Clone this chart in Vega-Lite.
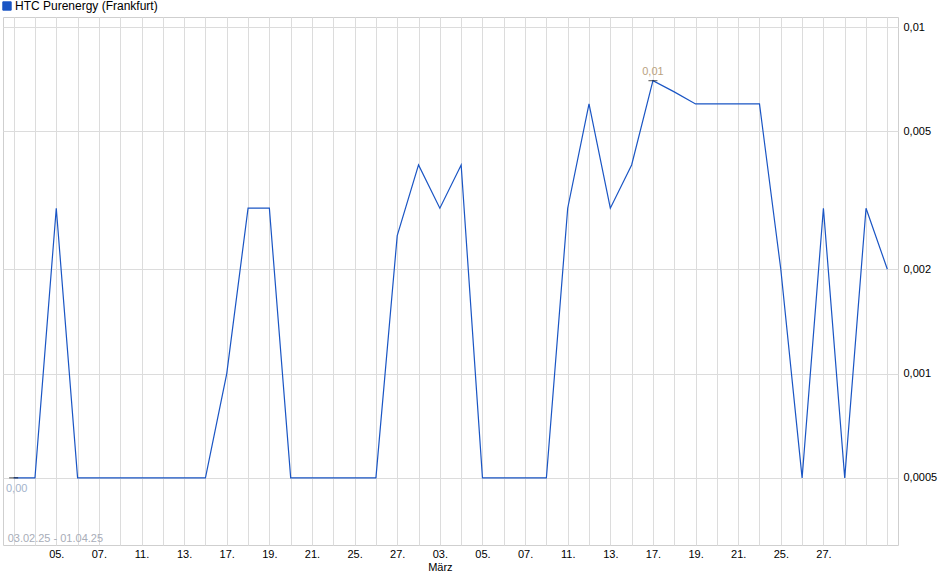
{
  "$schema": "https://vega.github.io/schema/vega-lite/v6.json",
  "width": 895,
  "height": 528,
  "autosize": {"type": "none"},
  "padding": {"left": 3, "top": 17, "right": 42, "bottom": 34},
  "data": {
    "values": [
      {"date": "2025-02-03", "price": 0.0005},
      {"date": "2025-02-04", "price": 0.0005},
      {"date": "2025-02-05", "price": 0.003},
      {"date": "2025-02-06", "price": 0.0005},
      {"date": "2025-02-07", "price": 0.0005},
      {"date": "2025-02-10", "price": 0.0005},
      {"date": "2025-02-11", "price": 0.0005},
      {"date": "2025-02-12", "price": 0.0005},
      {"date": "2025-02-13", "price": 0.0005},
      {"date": "2025-02-14", "price": 0.0005},
      {"date": "2025-02-17", "price": 0.001},
      {"date": "2025-02-18", "price": 0.003},
      {"date": "2025-02-19", "price": 0.003},
      {"date": "2025-02-20", "price": 0.0005},
      {"date": "2025-02-21", "price": 0.0005},
      {"date": "2025-02-24", "price": 0.0005},
      {"date": "2025-02-25", "price": 0.0005},
      {"date": "2025-02-26", "price": 0.0005},
      {"date": "2025-02-27", "price": 0.0025},
      {"date": "2025-02-28", "price": 0.004},
      {"date": "2025-03-03", "price": 0.003},
      {"date": "2025-03-04", "price": 0.004},
      {"date": "2025-03-05", "price": 0.0005},
      {"date": "2025-03-06", "price": 0.0005},
      {"date": "2025-03-07", "price": 0.0005},
      {"date": "2025-03-10", "price": 0.0005},
      {"date": "2025-03-11", "price": 0.003},
      {"date": "2025-03-12", "price": 0.006},
      {"date": "2025-03-13", "price": 0.003},
      {"date": "2025-03-14", "price": 0.004},
      {"date": "2025-03-17", "price": 0.007},
      {"date": "2025-03-18", "price": 0.0065},
      {"date": "2025-03-19", "price": 0.006},
      {"date": "2025-03-20", "price": 0.006},
      {"date": "2025-03-21", "price": 0.006},
      {"date": "2025-03-24", "price": 0.006},
      {"date": "2025-03-25", "price": 0.002},
      {"date": "2025-03-26", "price": 0.0005},
      {"date": "2025-03-27", "price": 0.003},
      {"date": "2025-03-28", "price": 0.0005},
      {"date": "2025-03-31", "price": 0.003},
      {"date": "2025-04-01", "price": 0.002}
    ]
  },
  "encoding": {
    "x": {
      "field": "date",
      "type": "ordinal",
      "sort": null,
      "scale": {"type": "point", "padding": 0.5},
      "axis": {
        "title": null,
        "grid": true,
        "ticks": false,
        "domain": false,
        "labelAngle": 0,
        "labelPadding": 3,
        "labelBaseline": "top",
        "labelFontSize": 11,
        "labelColor": "#000000",
        "labelLineHeight": 13,
        "labelExpr": "indexof(['2025-02-05','2025-02-07','2025-02-11','2025-02-13','2025-02-17','2025-02-19','2025-02-21','2025-02-25','2025-02-27','2025-03-03','2025-03-05','2025-03-07','2025-03-11','2025-03-13','2025-03-17','2025-03-19','2025-03-21','2025-03-25','2025-03-27'], datum.value) < 0 ? '' : (datum.value == '2025-03-03' ? ['03.', 'März'] : substring(datum.value, 8, 10) + '.')"
      }
    },
    "y": {
      "field": "price",
      "type": "quantitative",
      "scale": {"type": "log", "domain": [0.00032, 0.01069], "nice": false},
      "axis": {
        "title": null,
        "orient": "right",
        "values": [0.0005, 0.001, 0.002, 0.005, 0.01],
        "grid": true,
        "ticks": false,
        "domain": false,
        "labelPadding": 5,
        "labelFontSize": 11,
        "labelColor": "#000000",
        "labelExpr": "replace(format(datum.value, '~g'), '.', ',')"
      }
    }
  },
  "layer": [
    {
      "mark": {"type": "line", "strokeWidth": 1.2, "interpolate": "linear"},
      "encoding": {
        "color": {
          "datum": "HTC Purenergy (Frankfurt)",
          "scale": {"range": ["#1a55c4"]},
          "legend": {
            "title": null,
            "orient": "none",
            "legendX": -2,
            "legendY": -17,
            "padding": 0,
            "symbolType": "square",
            "symbolSize": 70,
            "symbolStrokeWidth": 1,
            "labelFontSize": 12,
            "labelColor": "#000000",
            "labelOffset": 2,
            "encode": {
              "symbols": {
                "update": {
                  "fill": {"value": "#1a55c4"},
                  "stroke": {"value": "#1e3a70"}
                }
              }
            }
          }
        }
      }
    },
    {
      "transform": [{"filter": "datum.date == '2025-02-03'"}],
      "mark": {"type": "tick", "color": "#000000", "size": 9, "thickness": 1},
      "encoding": {}
    },
    {
      "transform": [{"filter": "datum.date == '2025-02-03'"}],
      "mark": {"type": "text", "dy": 11, "dx": 3, "fontSize": 11, "color": "#a3b3cb"},
      "encoding": {"text": {"value": "0,00"}}
    },
    {
      "transform": [
        {"joinaggregate": [{"op": "max", "field": "price", "as": "maxPrice"}]},
        {"filter": "datum.price == datum.maxPrice"}
      ],
      "mark": {"type": "tick", "color": "#000000", "size": 9, "thickness": 1},
      "encoding": {}
    },
    {
      "transform": [
        {"joinaggregate": [{"op": "max", "field": "price", "as": "maxPrice"}]},
        {"filter": "datum.price == datum.maxPrice"}
      ],
      "mark": {"type": "text", "dy": -9, "fontSize": 11, "color": "#b9a27f"},
      "encoding": {"text": {"value": "0,01"}}
    },
    {
      "data": {"values": [{"date": "2025-02-03", "price": 0.000333, "label": "03.02.25 - 01.04.25"}]},
      "mark": {"type": "text", "align": "left", "dx": -6, "fontSize": 11, "color": "#a8adb8"},
      "encoding": {"text": {"field": "label"}}
    }
  ],
  "config": {
    "font": "Liberation Sans",
    "view": {"stroke": "#cfcfcf", "strokeWidth": 1},
    "axis": {"gridColor": "#dcdcdc", "gridWidth": 1, "labelFont": "Liberation Sans"},
    "legend": {"labelFont": "Liberation Sans"}
  }
}
